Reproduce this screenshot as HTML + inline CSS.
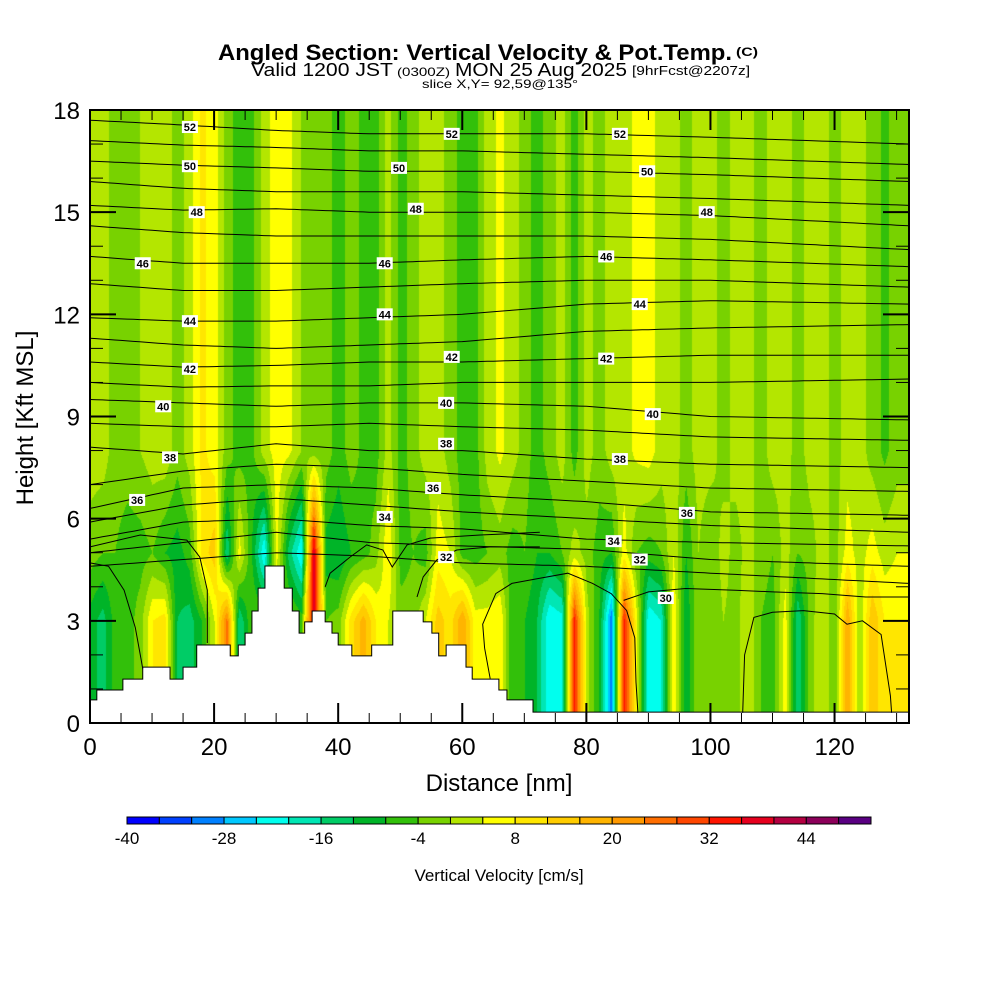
<!DOCTYPE html>
<html><head><meta charset="utf-8"><style>
html,body{margin:0;padding:0;background:#fff;}
#wrap{position:relative;width:1000px;height:1000px;overflow:hidden;font-family:"Liberation Sans",sans-serif;}
canvas{position:absolute;left:90px;top:110px;}
svg{position:absolute;left:0;top:0;}
</style></head><body>
<div id="wrap">
<canvas id="field" width="819" height="613"></canvas>
<svg id="svg" width="1000" height="1000">
<g font-family="Liberation Sans, sans-serif" fill="#000">
<text x="218" y="60" font-size="22" font-weight="bold" textLength="514" lengthAdjust="spacingAndGlyphs">Angled Section: Vertical Velocity &amp; Pot.Temp.</text>
<text x="736" y="56" font-size="12" font-weight="bold" textLength="22" lengthAdjust="spacingAndGlyphs">(C)</text>
<text x="251" y="76" font-size="18" textLength="142" lengthAdjust="spacingAndGlyphs">Valid 1200 JST</text>
<text x="397" y="76" font-size="12" textLength="53" lengthAdjust="spacingAndGlyphs">(0300Z)</text>
<text x="455" y="76" font-size="18" textLength="172" lengthAdjust="spacingAndGlyphs">MON 25 Aug 2025</text>
<text x="632" y="75" font-size="13" textLength="118" lengthAdjust="spacingAndGlyphs">[9hrFcst@2207z]</text>
<text x="422" y="88" font-size="12" textLength="156" lengthAdjust="spacingAndGlyphs">slice X,Y= 92,59@135°</text>
</g>
<g id="terrainG"></g>
<g id="contourG" fill="none" stroke="#000" stroke-width="1"></g>
<g id="labelG"></g>
<rect x="90" y="110" width="819" height="613" fill="none" stroke="#000" stroke-width="2"/>
<g id="tickG" stroke="#000"></g>
<g id="axisLabelG" font-family="Liberation Sans, sans-serif" font-size="24" fill="#000"></g>
<text x="0" y="0" font-size="24" font-family="Liberation Sans, sans-serif" text-anchor="middle" transform="translate(33,418) rotate(-90)">Height [Kft MSL]</text>
<text x="499" y="791" font-size="24" font-family="Liberation Sans, sans-serif" text-anchor="middle">Distance [nm]</text>
<g id="cbarG"></g>
<text x="499" y="881" font-size="17" font-family="Liberation Sans, sans-serif" text-anchor="middle">Vertical Velocity [cm/s]</text>
</svg>
</div>
<script>
// ---- data ----
const colXs = [0,2,4,6,8,10,12,14,16,18,20,22,24,26,28,30,32,34,36,38,40,42,44,46,48,50,52,54,56,58,60,62,64,66,68,70,72,74,76,78,80,82,84,86,88,90,92,94,96,98,100,102,104,106,108,110,112,114,116,118,120,122,124,126,128,130,132];
const wLow = [-10,-14,-6,-6,-2,8,10,-12,-14,-8,4,26,-16,-4,-4,-2,-2,-6,40,-4,-2,10,18,8,4,-2,-2,4,14,10,20,6,6,8,-8,-8,-12,-24,-22,34,2,-8,-32,34,6,-24,-20,8,-12,0,-4,0,-2,4,-4,-6,6,-16,-2,4,-4,20,0,16,8,8,8];
const wMid = [-2,-4,-4,-6,-6,-4,-8,-10,-6,10,14,-16,6,-8,-24,6,-14,-24,40,-10,-12,-8,-6,-2,8,-6,-4,-6,6,4,-6,-6,-4,-2,-6,-4,-8,-8,-4,2,-2,-6,-8,6,-4,-6,-4,4,-8,0,-4,2,-2,2,-2,-4,2,-4,-2,2,-2,6,2,6,2,4,4];
const wHigh = [2,2,-2,-2,0,2,3,-2,2,9,6,-2,-6,-5,2,6,5,0,-2,-2,-6,-2,-5,-6,2,-6,-2,2,2,-2,-6,-6,2,5,2,-2,-6,-2,2,-6,2,-2,2,2,5,6,2,2,-2,2,2,-2,2,2,-2,2,2,-2,2,2,-2,2,2,-2,-5,-2,-2];
const rowHeights = [3.0, 5.0, 8.0];
const terrainX = [0,1.1,5.3,8.5,12.9,15.0,17.2,22.6,23.9,25.0,26.1,27.1,28.2,31.3,32.6,33.7,34.6,35.8,37.9,39.0,40.0,42.2,45.4,48.8,53.7,55.1,56.2,57.4,60.6,61.6,65.9,67.2,71.4];
const terrainH = [0.68,0.97,1.29,1.64,1.29,1.64,2.29,1.97,2.29,2.64,3.29,3.96,4.61,3.96,3.29,2.64,2.97,3.29,2.97,2.64,2.29,1.97,2.29,3.29,2.97,2.64,1.97,2.29,1.64,1.29,0.97,0.68,0.32];
const thetaNodesX = [0,15,30,45,60,80,100,132];
const thetaLevels = [32,33,34,35,36,37,38,39,40,41,42,43,44,45,46,47,48,49,50,51,52];
const thetaH = [
[4.6,4.8,5.0,4.9,4.7,4.6,4.4,4.1],
[5.0,5.3,5.6,5.3,5.2,5.1,4.8,4.6],
[5.4,5.9,6.0,5.8,5.7,5.4,5.3,5.2],
[5.9,6.4,6.6,6.4,6.2,6.0,5.8,5.6],
[6.3,6.9,7.0,6.9,6.7,6.5,6.2,6.1],
[7.0,7.4,7.6,7.5,7.3,7.1,6.9,6.8],
[8.1,7.9,8.2,8.0,8.0,7.75,7.6,7.5],
[8.8,8.7,8.7,8.8,8.7,8.6,8.4,8.3],
[9.5,9.4,9.3,9.4,9.4,9.3,9.0,8.9],
[10.0,9.86,9.9,9.9,10.0,10.0,10.0,10.1],
[10.6,10.45,10.5,10.6,10.6,10.7,10.8,10.8],
[11.3,11.1,11.0,11.1,11.2,11.5,11.6,11.7],
[11.9,11.8,11.8,11.9,12.0,12.3,12.4,12.3],
[12.9,12.7,12.7,12.8,12.9,13.0,13.0,12.8],
[13.7,13.5,13.5,13.5,13.6,13.7,13.6,13.4],
[14.6,14.4,14.3,14.3,14.3,14.3,14.2,13.9],
[15.2,15.06,15.1,15.0,15.0,15.0,14.9,14.6],
[15.9,15.7,15.6,15.6,15.6,15.5,15.4,15.2],
[16.5,16.38,16.3,16.2,16.2,16.2,16.1,15.9],
[17.1,16.97,16.9,16.8,16.8,16.7,16.6,16.4],
[17.7,17.56,17.4,17.3,17.3,17.3,17.2,17.0]];
const domeA = [[64.5,1.3],[63.6,2.2],[63.3,2.9],[65.4,3.8],[68,4.1],[72.5,4.25],[77,4.4],[81,4.1],[84,3.8],[86.5,3.3],[87.8,2.5],[88,1.2],[88.3,0.3]];
const domeD = [[105.2,0.3],[105.5,2],[107,3.1],[110,3.25],[115,3.3],[120,3.2],[122,2.9],[124.5,3.0],[127.5,2.6],[129,0.8],[129.2,0.3]];
const domeE = [[0,4.7],[3,4.6],[5.5,3.9],[7.3,2.8],[8.2,1.9],[8.5,1.6]];
const lineG = [[0,5.17],[8.1,5.52],[15.6,5.37],[17.7,4.87],[18.9,3.9],[18.9,2.35]];
const lineC = [[86,3.6],[90,3.85],[96,3.95],[104,3.9],[110,3.85],[118,3.8],[125,3.7],[132,3.7]];
const lineI = [[37.9,4.0],[38.7,4.4],[41.9,4.87],[44.6,5.23],[47.2,5.08],[48.7,4.58],[51.1,5.23],[54.8,5.43],[62.9,5.52],[72.5,5.6]];
const lineJ = [[52.7,3.7],[53.7,4.29],[55.9,4.79],[59.1,5.08],[64.5,5.17],[72.5,5.17]];
const labelVals = [52,52,52,50,50,50,48,48,48,46,46,46,44,44,44,42,42,42,40,40,40,38,38,38,36,36,36,34,34,32,32,30];
const labelX = [16.1,58.3,85.4,16.1,49.8,89.8,17.2,52.5,99.4,8.5,47.5,83.2,16.1,47.5,88.6,16.1,58.3,83.2,11.8,57.4,90.7,12.9,57.4,85.4,7.6,55.3,96.2,47.5,84.4,57.4,88.6,92.8];
const labelH = [17.5,17.3,17.3,16.35,16.3,16.2,15.0,15.1,15.0,13.5,13.5,13.7,11.8,12.0,12.3,10.4,10.75,10.7,9.3,9.4,9.07,7.8,8.2,7.75,6.55,6.9,6.17,6.05,5.34,4.87,4.8,3.67];
const cbarColors = ['#0000ff','#0040ff','#0080ff','#00c8ff','#00ffee','#00e6b4','#00cc66','#00b428','#32c00a','#78d200','#b4e600','#ffff00','#ffe600','#ffcc00','#ffb400','#ff9900','#ff6e00','#ff4600','#ff1400','#e6001e','#b40041','#8c005a','#5a0082'];
const cbarTicks = [-40,-28,-16,-4,8,20,32,44];
const xTicks = [0,20,40,60,80,100,120];
const yTicks = [0,3,6,9,12,15,18];

// ---- scales ----
const X0=90, Y0=723, W=819, H=613, XMAX=132, YMAX=18;
const xs = v => X0 + v*W/XMAX;
const ys = v => Y0 - v*H/YMAX;
const NS='http://www.w3.org/2000/svg';
function mk(tag, attrs, parent){const e=document.createElementNS(NS,tag);for(const k in attrs)e.setAttribute(k,attrs[k]);parent.appendChild(e);return e;}
function interp(xa, ya, x){ if(x<=xa[0])return ya[0]; for(let i=1;i<xa.length;i++){ if(x<=xa[i]){const t=(x-xa[i-1])/(xa[i]-xa[i-1]);return ya[i-1]+t*(ya[i]-ya[i-1]);}} return ya[ya.length-1]; }
function binColor(w){ let i=Math.floor((w+40)/4); if(i<0)i=0; if(i>22)i=22; return cbarColors[i]; }
function hexRGB(h){return [parseInt(h.substr(1,2),16),parseInt(h.substr(3,2),16),parseInt(h.substr(5,2),16)];}
const rgbList = cbarColors.map(hexRGB);

// ---- field ----
const cv=document.getElementById('field'), ctx=cv.getContext('2d');
const img=ctx.createImageData(W,H);
for(let px=0;px<W;px++){
  const nm=px*XMAX/W;
  const lo=interp(colXs,wLow,nm), mi=interp(colXs,wMid,nm), hi=interp(colXs,wHigh,nm);
  for(let py=0;py<H;py++){
    const k=(H-py)*YMAX/H;
    const w = interp(rowHeights,[lo,mi,hi],k);
    let i=Math.floor((w+40)/4); if(i<0)i=0; if(i>22)i=22;
    const c=rgbList[i]; const o=(py*W+px)*4;
    img.data[o]=c[0];img.data[o+1]=c[1];img.data[o+2]=c[2];img.data[o+3]=255;
  }
}
ctx.putImageData(img,0,0);

// ---- terrain ----
(function(){
  let d='M'+xs(0)+','+ys(0);
  for(let i=0;i<terrainX.length;i++){
    const x1=xs(terrainX[i]), x2=xs(i+1<terrainX.length?terrainX[i+1]:XMAX), y=ys(terrainH[i]);
    d+=' L'+x1+','+y+' L'+x2+','+y;
  }
  d+=' L'+xs(XMAX)+','+ys(0)+' Z';
  const fill=mk('path',{d:d,fill:'#fff',stroke:'none'},document.getElementById('terrainG'));
  
  
  let d2='';
  for(let i=0;i<terrainX.length;i++){
    const x1=xs(terrainX[i]), x2=xs(i+1<terrainX.length?terrainX[i+1]:XMAX), y=ys(terrainH[i]);
    d2+=(i?' L':'M')+x1+','+y+' L'+x2+','+y;
  }
  const out=mk('path',{d:d2,fill:'none',stroke:'#000','stroke-width':1},document.getElementById('terrainG'));
  
  
})();

// ---- contours ----
const cg=document.getElementById('contourG');
thetaLevels.forEach((lv,li)=>{
  const pts=[];
  for(let nm=0;nm<=XMAX;nm+=1){
    const h=interp(thetaNodesX,thetaH[li],nm);
    if(h>interp(terrainX,terrainH,nm)+0.1) pts.push(xs(nm).toFixed(1)+','+ys(h).toFixed(1));
  }
  const p=mk('polyline',{points:pts.join(' ')},cg);
  
  
});
[['dome-a',domeA],['dome-d',domeD],['dome-e',domeE],['contour-g',lineG],['contour-c',lineC],['contour-i',lineI],['contour-j',lineJ]].forEach(([n,arr])=>{
  const p=mk('polyline',{points:arr.map(q=>xs(q[0]).toFixed(1)+','+ys(q[1]).toFixed(1)).join(' ')},cg);
  
  
});

// ---- contour labels ----
const lg=document.getElementById('labelG');
labelVals.forEach((v,i)=>{
  const g=mk('g',{},lg);
  
  
  const cx=xs(labelX[i]), cy=ys(labelH[i]);
  mk('rect',{x:cx-8,y:cy-6,width:16,height:12,fill:'#fff'},g);
  const t=mk('text',{x:cx,y:cy+4,'font-size':11,'font-weight':'bold','text-anchor':'middle','font-family':'Liberation Sans, sans-serif'},g);
  t.textContent=v;
});

// ---- ticks ----
const tg=document.getElementById('tickG');
for(let v=0;v<=XMAX;v+=5){
  const major=v%20===0, L=major?20:10, sw=major?2:1;
  mk('line',{x1:xs(v),x2:xs(v),y1:Y0,y2:Y0-L,'stroke-width':sw},tg);
  mk('line',{x1:xs(v),x2:xs(v),y1:110,y2:110+L,'stroke-width':sw},tg);
}
for(let v=0;v<=YMAX;v+=1){
  const major=v%3===0, L=major?26:13, sw=major?2:1;
  mk('line',{x1:X0,x2:X0+L,y1:ys(v),y2:ys(v),'stroke-width':sw},tg);
  mk('line',{x1:909,x2:909-L,y1:ys(v),y2:ys(v),'stroke-width':sw},tg);
}
const alg=document.getElementById('axisLabelG');
xTicks.forEach(v=>{
  const t=mk('text',{x:xs(v),y:755,'text-anchor':'middle'},alg);
  
  
  t.textContent=v;
});
yTicks.forEach(v=>{
  const t=mk('text',{x:80,y:ys(v)+9,'text-anchor':'end'},alg);
  
  
  t.textContent=v;
});

// ---- colorbar ----
const cb=document.getElementById('cbarG');


const cbX=127, cbW=744/23;
cbarColors.forEach((c,i)=>{
  const r=mk('rect',{x:cbX+i*cbW,y:817,width:cbW,height:7,fill:c,stroke:'#000','stroke-width':1},cb);
  
  
});
cbarTicks.forEach(v=>{
  const t=mk('text',{x:cbX+(v+40)/4*cbW,y:844,'text-anchor':'middle','font-size':17,'font-family':'Liberation Sans, sans-serif'},cb);
  
  
  t.textContent=v;
});
</script>
</body></html>
